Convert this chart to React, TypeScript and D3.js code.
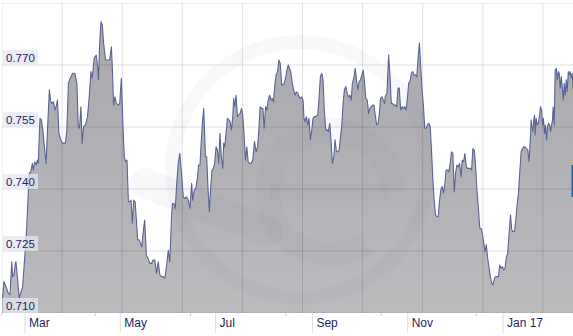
import React from 'react';
import * as d3 from 'd3';

const W = 573;
const H = 336;

// day offsets from 1 Mar 2016, rate
const baseDate = new Date(2016, 2, 1);

const febApr: [number, number][] = [
  [-14.8,0.7136],[-14.3,0.7139],[-13.5,0.7176],[-12.2,0.7164],[-10.7,0.7148],[-9.6,0.7144],[-8.5,0.7224],[-7.9,0.7188],[-7.1,0.7192],[-6.2,0.7220],[-5.8,0.7224],[-4.9,0.7188],[-3.7,0.7136],[-2.8,0.7148],[-1.5,0.7164],[0,0.7244],[1.1,0.7309],[2.1,0.7390],[2.8,0.7438],[3.7,0.7442],[4.7,0.7462],[5.3,0.7446],[6.2,0.7466],[7.1,0.7458],[7.9,0.7470],[8.5,0.7462],[9.6,0.7571],[10.5,0.7567],[11.4,0.7543],[12.4,0.7502],[13.5,0.7462],[14.3,0.7535],[15.6,0.7640],[16.5,0.7611],[17.3,0.7607],[18.2,0.7611],[19.1,0.7591],[19.9,0.7599],[20.8,0.7615],[21.7,0.7535],[22.9,0.7519],[23.8,0.7511],[25.1,0.7511],[25.9,0.7511],[26.8,0.7543],[27.8,0.7656],[28.9,0.7668],[30.6,0.7680],[31.9,0.7680],[33.2,0.7656],[34.1,0.7551],[34.9,0.7547],[35.8,0.7599],[36.6,0.7511],[37.5,0.7551],[38.7,0.7555],[40.0,0.7575],[41.3,0.7632],[42.2,0.7684],[43.0,0.7668],[44.3,0.7716],[45.6,0.7724],[46.5,0.7696],[47.1,0.7664],[47.7,0.7744],[48.6,0.7805],[49.5,0.7797],[50.3,0.7753],[51.6,0.7712],[52.9,0.7712],[54.2,0.7712],[55.3,0.7744],[55.9,0.7696],[56.7,0.7603],[57.6,0.7623],[58.5,0.7607],[59.7,0.7603],[60.6,0.7607]
];

const mayJun: [number, number][] = [
  [61.7,0.7668],[62.8,0.7543],[63.6,0.7478],[64.4,0.7466],[65.3,0.7470],[66.2,0.7369],[67.0,0.7369],[67.9,0.7373],[68.7,0.7317],[69.6,0.7373],[70.5,0.7369],[71.3,0.7325],[72.1,0.7277],[73.0,0.7277],[73.9,0.7269],[74.7,0.7260],[75.6,0.7293],[76.6,0.7325],[77.7,0.7240],[78.8,0.7232],[79.9,0.7220],[81.0,0.7220],[82.0,0.7228],[83.1,0.7228],[84.2,0.7196],[85.3,0.7224],[86.3,0.7192],[87.4,0.7188],[88.5,0.7188],[89.5,0.7184],[90.6,0.7212],[91.7,0.7252],[92.7,0.7224],[93.8,0.7333],[94.4,0.7365],[95.3,0.7365],[96.2,0.7353],[97.0,0.7406],[98.1,0.7462],[99.1,0.7486],[100.2,0.7438],[101.3,0.7381],[102.3,0.7377],[103.4,0.7381],[104.5,0.7373],[105.6,0.7353],[106.7,0.7414],[107.3,0.7373],[108.4,0.7398],[109.4,0.7402],[110.5,0.7430],[111.1,0.7458],[112.0,0.7458],[112.9,0.7519],[113.7,0.7567],[114.4,0.7595],[115.0,0.7535],[115.5,0.7478],[116.3,0.7478],[117.1,0.7406],[118.0,0.7345],[118.9,0.7406],[119.7,0.7446],[120.6,0.7450]
];

const julAug: [number, number][] = [
  [121.4,0.7462],[122.3,0.7502],[123.2,0.7494],[124.0,0.7462],[124.8,0.7535],[125.7,0.7478],[126.6,0.7450],[127.2,0.7511],[127.9,0.7502],[128.7,0.7535],[129.6,0.7571],[130.4,0.7567],[131.3,0.7563],[132.2,0.7543],[133.0,0.7575],[133.6,0.7619],[134.3,0.7599],[135.1,0.7627],[136.0,0.7575],[136.8,0.7579],[137.7,0.7583],[138.6,0.7595],[139.4,0.7579],[140.3,0.7527],[141.1,0.7470],[142.0,0.7502],[142.8,0.7466],[143.7,0.7462],[144.7,0.7462],[145.8,0.7470],[146.9,0.7515],[148.0,0.7490],[148.9,0.7502],[149.7,0.7543],[150.5,0.7599],[151.4,0.7595],[152.3,0.7595],[153.1,0.7547],[154.0,0.7599],[154.8,0.7591],[155.7,0.7615],[156.6,0.7627],[157.4,0.7615],[158.2,0.7619],[159.1,0.7611],[160.0,0.7656],[160.8,0.7676],[161.7,0.7684],[162.5,0.7712],[163.4,0.7704],[164.3,0.7652],[165.1,0.7652],[166.0,0.7656],[166.8,0.7668],[167.7,0.7688],[168.5,0.7700],[170.1,0.7684],[171.1,0.7656],[172.0,0.7640],[172.8,0.7627],[173.7,0.7635],[174.6,0.7632],[175.4,0.7623],[176.2,0.7619],[177.1,0.7623],[178.0,0.7615],[178.6,0.7571],[179.2,0.7563],[180.1,0.7575]
];

const sepOct: [number, number][] = [
  [181.0,0.7555],[181.8,0.7571],[182.7,0.7519],[183.6,0.7543],[184.4,0.7571],[185.2,0.7575],[186.1,0.7575],[187.4,0.7579],[188.2,0.7619],[189.1,0.7672],[190.0,0.7680],[190.8,0.7664],[191.6,0.7591],[192.5,0.7543],[193.4,0.7543],[194.2,0.7539],[195.1,0.7559],[196.0,0.7511],[196.8,0.7462],[197.7,0.7478],[198.5,0.7519],[199.4,0.7490],[200.3,0.7490],[201.1,0.7494],[201.9,0.7523],[202.8,0.7555],[203.7,0.7611],[204.5,0.7640],[205.4,0.7648],[206.2,0.7632],[207.1,0.7623],[208.0,0.7627],[208.8,0.7615],[209.6,0.7656],[210.5,0.7668],[211.4,0.7692],[212.2,0.7664],[213.1,0.7640],[213.9,0.7660],[214.8,0.7664],[215.7,0.7676],[216.5,0.7688],[217.3,0.7660],[218.2,0.7619],[219.1,0.7615],[219.9,0.7583],[220.8,0.7595],[221.6,0.7599],[222.5,0.7603],[223.4,0.7603],[224.2,0.7579],[225.1,0.7555],[226.0,0.7559],[226.8,0.7579],[227.6,0.7619],[228.5,0.7623],[229.4,0.7615],[230.2,0.7607],[230.6,0.7623],[231.7,0.7632],[232.8,0.7724],[233.7,0.7672],[234.5,0.7607],[235.3,0.7607],[236.2,0.7603],[237.1,0.7603],[237.9,0.7599],[238.8,0.7644],[239.6,0.7644]
];

const novDec: [number, number][] = [
  [240.5,0.7591],[241.4,0.7599],[242.2,0.7595],[243.0,0.7599],[243.9,0.7591],[244.8,0.7619],[245.6,0.7656],[246.5,0.7660],[247.3,0.7680],[248.2,0.7684],[249.1,0.7676],[249.9,0.7676],[250.8,0.7672],[251.6,0.7716],[252.5,0.7753],[253.3,0.7696],[254.2,0.7640],[255.1,0.7599],[255.9,0.7547],[256.8,0.7547],[257.6,0.7555],[258.5,0.7559],[259.4,0.7551],[260.2,0.7494],[261.0,0.7430],[261.9,0.7373],[262.8,0.7337],[263.6,0.7333],[264.5,0.7333],[265.4,0.7373],[266.2,0.7398],[267.1,0.7406],[267.9,0.7390],[268.8,0.7414],[269.6,0.7446],[270.5,0.7446],[271.3,0.7442],[272.2,0.7462],[273.0,0.7490],[273.9,0.7486],[274.8,0.7393],[275.6,0.7438],[276.5,0.7458],[277.4,0.7454],[278.2,0.7462],[279.1,0.7430],[279.9,0.7470],[280.8,0.7466],[281.6,0.7486],[282.5,0.7454],[283.3,0.7450],[284.2,0.7450],[285.1,0.7450],[285.9,0.7446],[286.7,0.7498],[287.6,0.7494],[288.5,0.7454],[289.3,0.7398],[290.2,0.7357],[291.1,0.7305],[291.9,0.7305],[292.3,0.7301],[293.4,0.7277],[294.5,0.7248],[295.3,0.7265],[296.2,0.7232],[297.0,0.7212],[297.9,0.7188],[298.8,0.7172],[299.6,0.7168],[300.5,0.7184],[301.3,0.7188],[302.2,0.7188],[303.1,0.7188],[303.9,0.7216],[304.7,0.7208],[305.6,0.7212]
];

const janFeb: [number, number][] = [
  [306.5,0.7204],[307.3,0.7208],[308.2,0.7236],[309.0,0.7244],[309.9,0.7293],[310.8,0.7337],[311.6,0.7301],[312.4,0.7297],[313.3,0.7297],[314.2,0.7325],[315.0,0.7361],[315.9,0.7390],[316.7,0.7438],[317.6,0.7490],[318.5,0.7498],[319.3,0.7502],[320.1,0.7502],[321.0,0.7498],[321.9,0.7494],[322.7,0.7466],[323.6,0.7527],[324.0,0.7567],[324.4,0.7555],[325.1,0.7539],[325.7,0.7567],[326.2,0.7579],[326.6,0.7531],[327.2,0.7571],[327.9,0.7555],[328.7,0.7559],[329.6,0.7583],[330.0,0.7599],[330.7,0.7591],[331.3,0.7555],[331.9,0.7571],[332.6,0.7535],[333.2,0.7555],[333.9,0.7519],[334.5,0.7551],[335.2,0.7559],[335.8,0.7555],[336.5,0.7539],[337.1,0.7555],[337.7,0.7567],[338.1,0.7599],[338.8,0.7555],[339.4,0.7688],[340.1,0.7692],[340.7,0.7664],[341.4,0.7684],[342.0,0.7680],[342.6,0.7644],[343.3,0.7672],[343.9,0.7648],[344.6,0.7615],[345.2,0.7656],[345.8,0.7627],[346.5,0.7664],[347.1,0.7636],[347.8,0.7684],[348.4,0.7676],[349.1,0.7684],[349.7,0.7668],[350.3,0.7680],[351.0,0.7640],[351.6,0.7656],[352.1,0.7668]
];

const yTickValues = [0.71, 0.725, 0.74, 0.755, 0.77];
const yTickLabels = ['0.710', '0.725', '0.740', '0.755', '0.770'];
const yDomain = [0.71, 0.785];

const monthTickDates = [
  new Date(2016, 2, 1), new Date(2016, 4, 1), new Date(2016, 6, 1),
  new Date(2016, 8, 1), new Date(2016, 10, 1), new Date(2017, 0, 1),
];
const monthTickLabels = ['Mar', 'May', 'Jul', 'Sep', 'Nov', 'Jan 17'];
const minorTickDates = [
  new Date(2016, 1, 15), new Date(2016, 3, 15), new Date(2016, 5, 15), new Date(2016, 7, 15),
  new Date(2016, 9, 15), new Date(2016, 11, 15), new Date(2017, 1, 15),
];

const FONT = '"Liberation Sans", Arial, Helvetica, sans-serif';
const TEXT = '#1f2560';

export default function App() {
  const left = 2, right = W, top = 3, bottom = 313;
  const x = d3.scaleTime()
    .domain([new Date(2016, 2, 1), new Date(2017, 0, 1)])
    .range([25, 503]);
  const y = d3.scaleLinear().domain(yDomain).range([bottom, top]);

  const quotes = [...febApr, ...mayJun, ...julAug, ...sepOct, ...novDec, ...janFeb].map(([d, v]) => ({
    date: new Date(baseDate.getTime() + d * 86400000),
    value: v,
  }));

  const area = d3.area<{ date: Date; value: number }>()
    .x(d => x(d.date))
    .y0(y(yDomain[0]))
    .y1(d => y(d.value));
  const line = d3.line<{ date: Date; value: number }>()
    .x(d => x(d.date))
    .y(d => y(d.value));

  const hGrid = [...yTickValues, yDomain[1]];
  const vGridStep = 60.1;
  const vGrid = d3.range(left, right, vGridStep);

  const wm = 'rgba(70,70,140,0.04)';
  const eR = 62;
  const eC = 2 * Math.PI * eR;

  return (
    <svg width={W} height={H} style={{ position: 'absolute', left: 0, top: 0, background: '#fff' }}>
      <defs>
        <clipPath id="plot">
          <rect x={left} y={top} width={right - left} height={bottom - top} />
        </clipPath>
        <linearGradient id="fillGrad" x1="0" y1="0" x2="0" y2="1">
          <stop offset="0%" stopColor="#a8a8ad" />
          <stop offset="100%" stopColor="#bbbbbe" />
        </linearGradient>
      </defs>
      <rect x={0} y={0} width={W} height={H} fill="#fff" />
      <g clipPath="url(#plot)">
        <path d={area(quotes) || ''} fill="url(#fillGrad)" />
        <g fill="none" stroke={wm}>
          <circle cx={300} cy={170} r={128} strokeWidth={14} />
          <circle cx={330} cy={192} r={eR} strokeWidth={24}
            strokeDasharray={`${eC - 60} 60`} strokeDashoffset={-60} />
          <line x1={270} y1={192} x2={388} y2={192} strokeWidth={16} />
          <line x1={145} y1={183} x2={268} y2={232} strokeWidth={30} strokeLinecap="round" />
        </g>
        {hGrid.map((v, i) => (
          <line key={'h' + i} x1={left} x2={right} y1={y(v)} y2={y(v)} stroke="rgba(0,0,0,0.12)" strokeWidth={1} />
        ))}
        {vGrid.map((gx, i) => (
          <line key={'v' + i} x1={gx} x2={gx} y1={top} y2={bottom} stroke="rgba(0,0,0,0.12)" strokeWidth={1} />
        ))}
        <path d={line(quotes) || ''} fill="none" stroke="#5a6494" strokeWidth={1.1} strokeLinejoin="round" />
      </g>
      {monthTickDates.map((d, i) => (
        <g key={'m' + i}>
          <line x1={x(d)} x2={x(d)} y1={bottom} y2={bottom + 20} stroke="#dcdcdc" strokeWidth={1} />
          <text x={x(d) + 4} y={bottom + 14} fontFamily={FONT} fontSize={12} fill={TEXT}>{monthTickLabels[i]}</text>
        </g>
      ))}
      {minorTickDates.map((d, i) => (
        <line key={'n' + i} x1={x(d)} x2={x(d)} y1={bottom} y2={bottom + 3} stroke="#d0d0d8" strokeWidth={1} />
      ))}
      {yTickValues.map((v, i) => (
        <g key={'y' + i}>
          <rect x={3} y={y(v) - 15} width={35} height={15} fill="rgba(229,229,240,0.75)" />
          <text x={6} y={y(v) - 3.5} fontFamily={FONT} fontSize={11.5} fill={TEXT}>{yTickLabels[i]}</text>
        </g>
      ))}
      <rect x={571.5} y={165} width={2} height={32} fill="#1f5fae" />
    </svg>
  );
}
